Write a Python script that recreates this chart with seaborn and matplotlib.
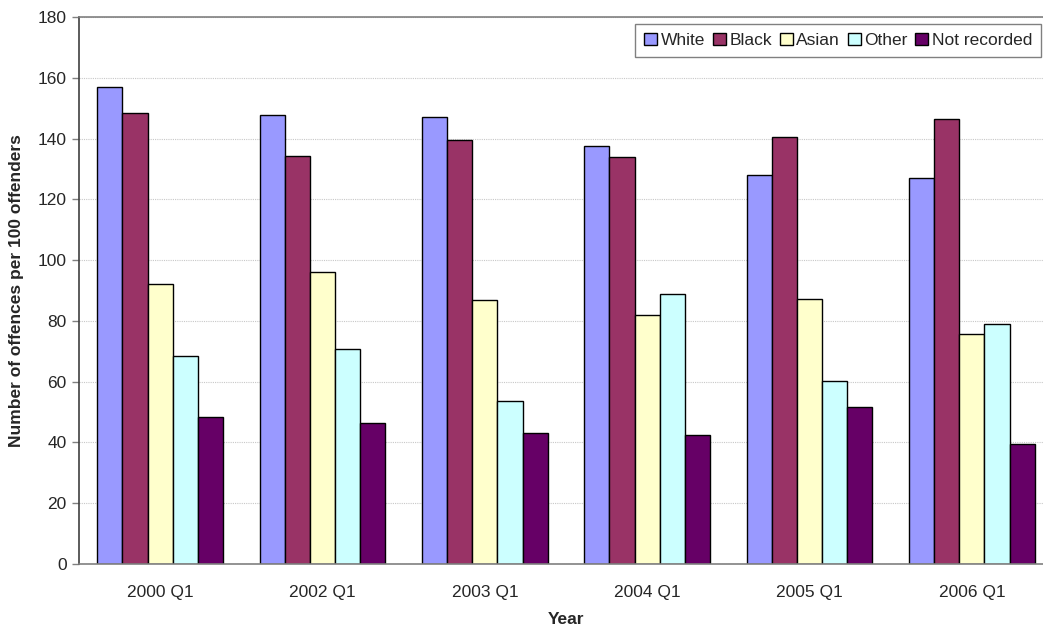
import numpy as np
import pandas as pd
import matplotlib
matplotlib.use("Agg")
import matplotlib.pyplot as plt
import seaborn as sns

years = ["2000 Q1", "2002 Q1", "2003 Q1", "2004 Q1", "2005 Q1", "2006 Q1"]
groups = ["White", "Black", "Asian", "Other", "Not recorded"]
white = [157.1, 147.7, 147.2, 137.5, 128.1, 126.9]
black = [148.5, 134.3, 139.5, 134.0, 140.6, 146.5]
asian = [92.1, 96.2, 86.9, 82.0, 87.3, 75.8]
other = [68.5, 70.7, 53.5, 88.8, 60.3, 79.1]
not_recorded = [48.5, 46.3, 43.2, 42.3, 51.8, 39.5]
colors = ["#9999FF", "#993366", "#FFFFCC", "#CCFFFF", "#660066"]

series = [white, black, asian, other, not_recorded]
rows = []
for g, vals in zip(groups, series):
    for y, v in zip(years, vals):
        rows.append({"Year": y, "Group": g, "Value": v})
df = pd.DataFrame(rows)

sns.set_style("white")
plt.rcParams['font.family'] = ['Liberation Sans', 'DejaVu Sans']

fig = plt.figure(figsize=(10.43, 6.27), dpi=100)
# plot area is cut off on the right in the reference
ax = fig.add_axes([79 / 1043, 1 - 564 / 627, 974 / 1043, 547 / 627])

sns.barplot(data=df, x="Year", y="Value", hue="Group", order=years, hue_order=groups,
            palette=colors, width=0.775, edgecolor="black", linewidth=1.0,
            saturation=1, ax=ax)

ax.set_xlim(-0.5, 5.5)
ax.set_ylim(0, 180)
ax.set_yticks(np.arange(0, 181, 20))
ax.yaxis.grid(True, color="#c8c8c8", linestyle=(0, (1, 1)), linewidth=0.8)
ax.set_axisbelow(True)

ax.set_xticks(np.arange(-0.5, 6, 1), minor=True)
ax.tick_params(axis="x", which="major", length=0, pad=15, labelsize=12.5)
ax.tick_params(axis="x", which="minor", length=5, width=1, color="#808080", direction="out")
ax.tick_params(axis="y", length=5, width=1, color="#808080", direction="out", pad=4, labelsize=12.5, left=True)

for s in ["left", "bottom", "top"]:
    ax.spines[s].set_color("#808080")
    ax.spines[s].set_linewidth(1.2)
ax.spines["left"].set_color("#404040")
ax.spines["right"].set_visible(False)

ax.set_xlabel("Year", fontsize=12.5, fontweight="bold", labelpad=9)
ax.set_ylabel("Number of offences per 100 offenders", fontsize=12.5, fontweight="bold", labelpad=10)

leg = ax.legend(loc="upper right", bbox_to_anchor=((1041 - 79) / 974, 1 - (24 - 17) / 547),
                ncol=5, fontsize=12.5, frameon=True, fancybox=False, handlelength=0.75,
                handleheight=0.75, handletextpad=0.2, columnspacing=0.45, borderpad=0.5,
                borderaxespad=0)
leg.get_frame().set_edgecolor("#606060")
leg.get_frame().set_linewidth(1.0)
leg.set_title(None)

fig.savefig("out.png", dpi=100)
